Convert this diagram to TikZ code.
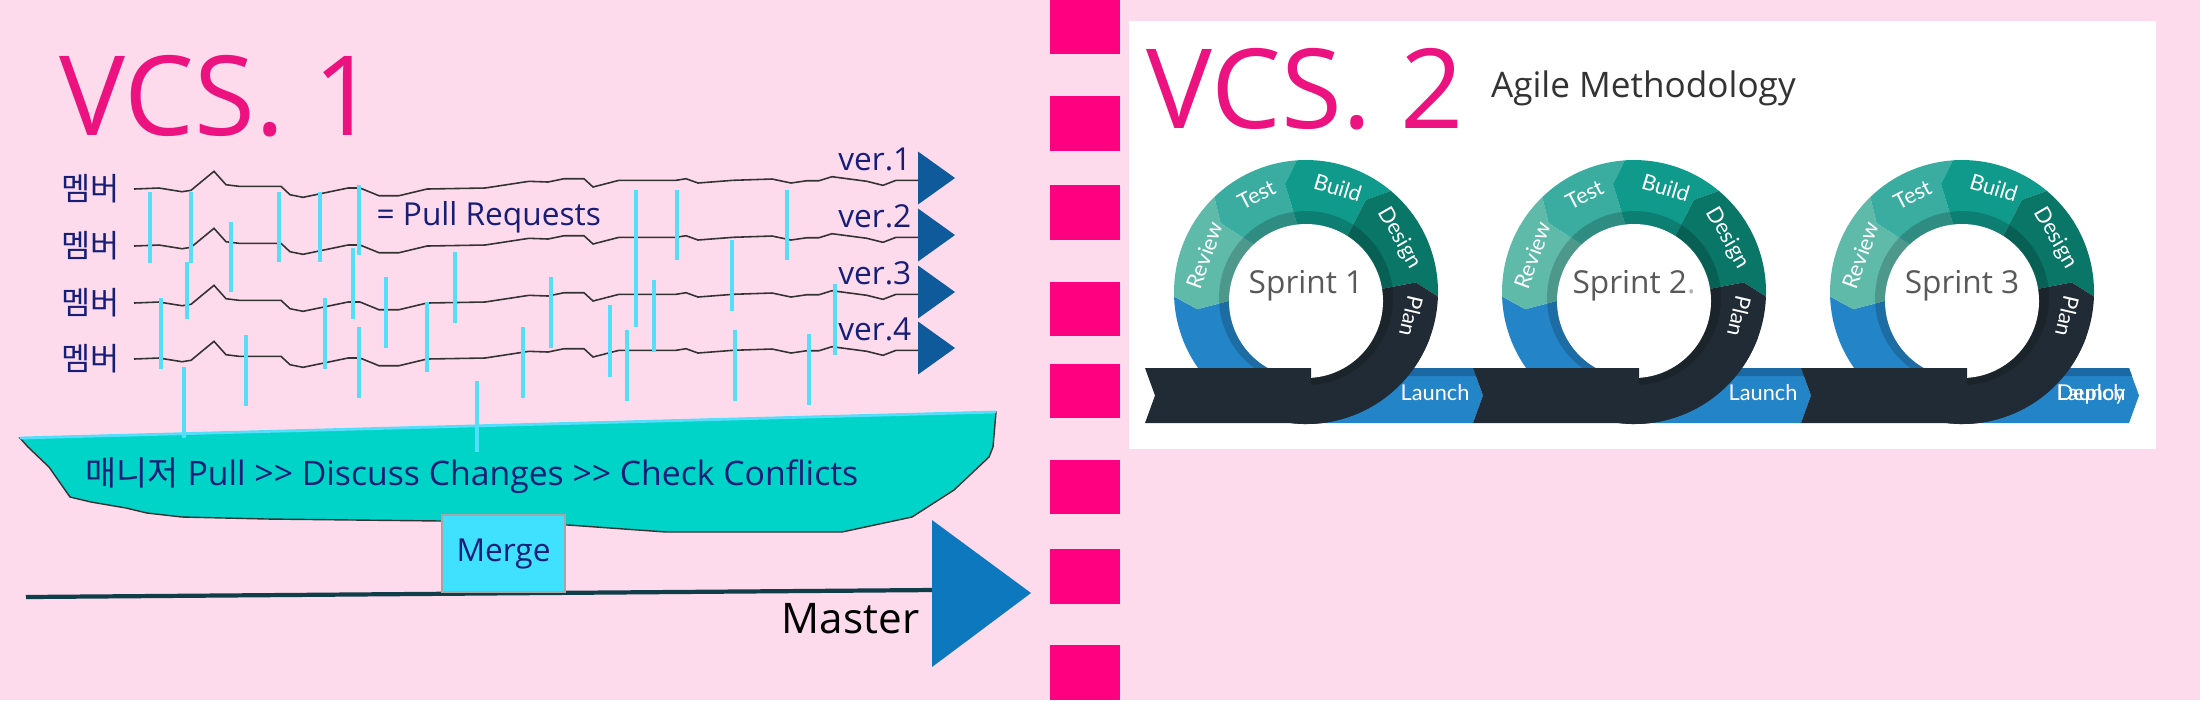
\documentclass[tikz,border=0pt]{standalone}
\usepackage{fontspec}
\setmainfont{Open Sans}
\newfontfamily\krfont{Noto Sans CJK KR}
\newfontfamily\ringfont{Lato}
\usepackage{xcolor}
\usetikzlibrary{arrows.meta,positioning,calc}

\definecolor{bgpink}{RGB}{253,218,236}
\definecolor{vcspink}{RGB}{236,18,128}
\definecolor{sepmag}{RGB}{255,0,128}
\definecolor{navytxt}{RGB}{22,30,120}
\definecolor{prcyan}{RGB}{85,222,250}
\definecolor{verblue}{RGB}{14,90,155}
\definecolor{basinteal}{RGB}{0,212,200}
\definecolor{mergecyan}{RGB}{64,224,255}
\definecolor{masterline}{RGB}{16,62,72}
\definecolor{masterblue}{RGB}{14,120,190}
\definecolor{revteal}{RGB}{95,186,170}
\definecolor{testteal}{RGB}{58,172,160}
\definecolor{buildteal}{RGB}{16,154,140}
\definecolor{designteal}{RGB}{10,118,104}
\definecolor{plandark}{RGB}{33,43,53}
\definecolor{launchblue}{RGB}{36,132,200}
\definecolor{launchtop}{RGB}{26,105,165}

\newcommand{\gtgt}{\mbox{>}\mbox{>}}
% one chevron segment of a sprint ring: start angle, end angle, colour
\newcommand{\ringseg}[3]{\fill[#3] (#1:0.5) -- (#1+7:1.1) -- (#1:1.32) arc[start angle=#1, end angle=#2, radius=1.32] -- (#2+7:1.1) -- (#2:0.5) -- cycle;}

\begin{document}
\begin{tikzpicture}[
    vcstitle/.style={text=vcspink, inner sep=0pt, font=\fontsize{31.5}{34}\selectfont},
    memlbl/.style={text=navytxt, inner sep=0pt, font=\krfont\fontsize{9}{10}\selectfont},
    verlbl/.style={text=navytxt, inner sep=0pt, font=\fontsize{9}{10}\selectfont},
    wave/.style={draw=black!80, line width=0.45pt},
    prbar/.style={draw=prcyan, line width=1.4pt},
    basinlbl/.style={text=navytxt, inner sep=0pt, font=\fontsize{9.6}{11}\selectfont},
    mergebox/.style={draw=gray!70, fill=mergecyan, minimum width=1.23cm, minimum height=0.77cm, inner sep=0pt, text=navytxt, font=\fontsize{9}{10}\selectfont},
    masterln/.style={draw=masterline, line width=1.2pt},
    agiletxt/.style={text=black!80, inner sep=0pt, font=\fontsize{10}{12}\selectfont},
    sprinttxt/.style={text=black!65, inner sep=0pt, font=\fontsize{9}{10}\selectfont},
    ringlbl/.style={text=white, inner sep=0pt, font=\ringfont\fontsize{6.2}{7}\selectfont}
]
\useasboundingbox (0,0) rectangle (22,-7);
\fill[bgpink] (0,0) rectangle (22,-7);

% ===== SEPARATOR =====
\foreach \ya/\yb in {0/0.54, 0.96/1.51, 1.85/2.40, 2.82/3.36, 3.64/4.18, 4.60/5.14, 5.49/6.04, 6.45/7.00}
  \fill[sepmag] (10.50,-\ya) rectangle (11.20,-\yb);

% ===== VCS 1 =====
\node[vcstitle, anchor=base west] (vcs1) at (0.59,-1.35) {VCS. 1};

\foreach \row/\yb in {1/1.89, 2/2.46, 3/3.03, 4/3.59} {
  \node[memlbl, anchor=east] (mem\row) at (1.20,-\yb) {멤버};
  \draw[wave, shift={(0,-\yb)}] (1.34,0) -- (1.59,0.01) -- (1.82,-0.027) -- (1.91,-0.013) -- (2.14,0.177) -- (2.26,0.043) -- (2.39,0.027) -- (2.81,0.027) -- (2.90,-0.057) -- (3.03,-0.083) -- (3.48,0.01) -- (3.60,0.01) -- (3.79,-0.067) -- (3.99,-0.067) -- (4.27,0) -- (4.85,0.01) -- (5.29,0.077) -- (5.48,0.07) -- (5.64,0.103) -- (5.84,0.103) -- (5.93,0.02) -- (6.19,0.087) -- (6.76,0.087) -- (6.86,0.103) -- (6.98,0.06) -- (7.33,0.087) -- (7.72,0.10) -- (7.91,0.06) -- (8.07,0.083) -- (8.19,0.083) -- (8.32,0.123) -- (8.67,0.077) -- (8.83,0.037) -- (8.96,0.087) -- (9.18,0.087);
  \fill[verblue] (9.18,-\yb+0.375) -- (9.55,-\yb+0.11) -- (9.18,-\yb-0.155) -- cycle;
  \node[verlbl, anchor=base east] (ver\row) at (9.12,-\yb+0.19) {ver.\row};
}

\node[verlbl, anchor=base west] (prnote) at (3.76,-2.25) {= Pull Requests};

% ===== MANAGER BASIN =====
\draw[fill=basinteal, draw=black!80, line width=0.4pt] (0.20,-4.38) -- (9.96,-4.12) -- (9.93,-4.47) -- (9.89,-4.57) -- (9.54,-4.90) -- (9.12,-5.17) -- (8.42,-5.32) -- (6.66,-5.32) -- (5.68,-5.25) -- (4.42,-5.21) -- (2.67,-5.19) -- (1.82,-5.17) -- (1.47,-5.13) -- (1.26,-5.08) -- (0.91,-5.02) -- (0.70,-4.97) -- (0.49,-4.67) -- (0.28,-4.47) -- cycle;
\draw[prcyan, line width=0.8pt] (0.20,-4.38) -- (9.96,-4.12);

\foreach \x/\ya/\yb in {1.50/1.92/2.63, 1.91/1.92/2.63, 1.87/2.62/3.19, 2.31/2.22/2.92, 2.79/1.92/2.62, 3.20/1.92/2.62, 3.59/1.85/2.55, 3.53/2.48/3.19, 3.86/2.77/3.48, 4.55/2.52/3.23, 4.27/3.02/3.72, 3.59/3.27/3.98, 3.25/2.98/3.69, 1.61/2.98/3.69, 1.84/3.67/4.38, 2.46/3.35/4.06, 4.77/3.81/4.52, 5.23/3.27/3.98, 5.51/2.77/3.48, 6.10/3.05/3.77, 6.27/3.30/4.01, 6.36/1.90/3.27, 6.54/2.80/3.52, 6.77/1.90/2.60, 7.32/2.40/3.11, 7.35/3.30/4.01, 7.87/1.90/2.60, 8.09/3.34/4.05, 8.35/2.84/3.55}
  \draw[prbar] (\x,-\ya) -- (\x,-\yb);

\node[basinlbl] (basin) at (4.72,-4.76) {{\krfont 매니저} Pull \gtgt{} Discuss Changes \gtgt{} Check Conflicts};

% ===== MASTER =====
\coordinate (mstart) at (0.26,-5.97);
\coordinate (mend) at (9.33,-5.90);
\draw[masterln] (mstart) -- (mend);
\node[mergebox] (merge) at (5.035,-5.535) {Merge};
\fill[masterblue] (9.32,-5.20) -- (10.31,-5.93) -- (9.32,-6.67) -- cycle;
\node[anchor=base east, inner sep=0pt, font=\fontsize{12}{14}\selectfont] (master) at (9.20,-6.33) {Master};

% ===== VCS 2 =====
\fill[white] (11.29,-0.21) rectangle (21.56,-4.49);
\node[vcstitle, anchor=base west] (vcs2) at (11.46,-1.28) {VCS. 2};
\node[agiletxt, right=0.26cm of vcs2.east] (agile) {Agile Methodology};

\foreach \cx/\num/\sname in {13.06/1/{Sprint 1}, 16.34/2/{Sprint 2\textcolor{black!30}{.}}, 19.62/3/{Sprint 3}} {
  \begin{scope}[shift={(\cx,-2.92)}]
    % launch band
    \fill[launchblue] (0,-0.76) -- (1.67,-0.76) -- (1.77,-1.035) -- (1.67,-1.31) -- (0,-1.31) -- cycle;
    \fill[launchtop] (0,-0.76) -- (1.67,-0.76) -- (1.70,-0.84) -- (0,-0.84) -- cycle;
    % ring
    \ringseg{182}{270}{launchblue}
    \ringseg{134}{182}{revteal}
    \ringseg{94}{134}{testteal}
    \ringseg{50}{94}{buildteal}
    \ringseg{-2}{50}{designteal}
    \ringseg{-90}{-2}{plandark}
    \fill[plandark] (0,0) -- (-96:1.32) arc[start angle=-96, end angle=-20, radius=1.32] -- cycle;
    \fill[black, opacity=0.18] (0,-0.06) circle (0.87);
    \fill[white] (0,-0.09) circle (0.77);
    % dark band
    \fill[plandark] (-1.61,-0.76) -- (0.05,-0.76) -- (0.05,-1.31) -- (-1.61,-1.31) -- (-1.51,-1.035) -- cycle;
    \node[sprinttxt] (spr\num) at (0,0.06) {\sname};
    \node[ringlbl, rotate=70] (rev\num) at (160:1.08) {Review};
    \node[ringlbl, rotate=27] (tst\num) at (117:1.09) {Test};
    \node[ringlbl, rotate=-17] (bld\num) at (73:1.09) {Build};
    \node[ringlbl, rotate=-60] (dsg\num) at (30:1.08) {Design};
    \node[ringlbl, rotate=-103] (pln\num) at (-13:1.08) {Plan};
    \node[ringlbl, anchor=base] (lau\num) at (1.29,-1.08) {Launch};
    \ifnum\num=3 \node[ringlbl, anchor=base] (dep\num) at (1.29,-1.08) {Deploy};\fi
  \end{scope}
}

\end{tikzpicture}
\end{document}
